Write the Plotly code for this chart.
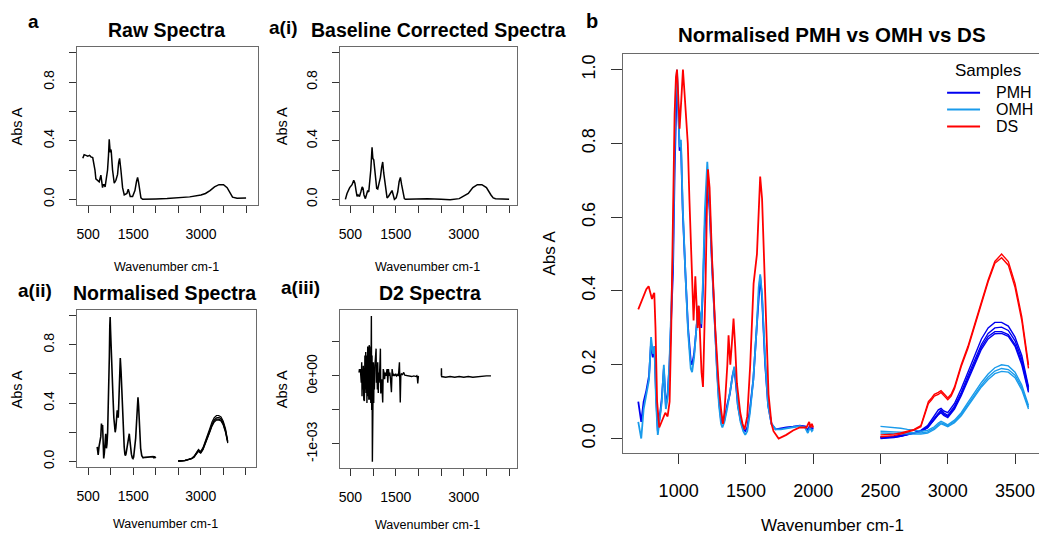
import plotly.graph_objects as go

W, H = 1039, 538
FONT = "Liberation Sans, Arial, sans-serif"

# ---------------- data ----------------
# a : raw spectrum
raw_wn = [380, 410, 450, 490, 530, 560, 600, 633, 650, 670, 707, 744, 781, 800, 818, 835, 855, 875, 895,
          929, 950, 966, 978, 988, 1000, 1010, 1040, 1077, 1114, 1151, 1175, 1196, 1225, 1262, 1299, 1330,
          1358, 1388, 1410, 1432, 1484, 1536, 1570, 1595, 1615, 1632, 1669, 1706, 1800, 2000, 2250, 2500,
          2750, 3000, 3100, 3200, 3300, 3400, 3500, 3580, 3650, 3700, 3800, 3900, 4000]
raw_abs = [0.28, 0.305, 0.30, 0.295, 0.30, 0.29, 0.285, 0.24, 0.20, 0.14, 0.13, 0.12, 0.165, 0.13, 0.08, 0.10,
           0.10, 0.085, 0.12, 0.20, 0.30, 0.41, 0.36, 0.32, 0.34, 0.33, 0.20, 0.11, 0.13, 0.17, 0.25, 0.28,
           0.20, 0.08, 0.03, 0.035, 0.04, 0.07, 0.04, 0.02, 0.02, 0.06, 0.12, 0.15, 0.12, 0.08, 0.01, 0.0,
           0.0, 0.003, 0.006, 0.01, 0.017, 0.03, 0.04, 0.06, 0.085, 0.10, 0.10, 0.08, 0.04, 0.015, 0.008,
           0.008, 0.01]

# a(i) : baseline corrected spectrum
base_wn = [390, 426, 485, 537, 574, 600, 625, 647, 670, 699, 730, 760, 779, 800, 831, 855, 882, 905, 926,
           950, 978, 995, 1015, 1035, 1060, 1080, 1103, 1130, 1162, 1190, 1213, 1235, 1257, 1280, 1309,
           1340, 1368, 1390, 1419, 1440, 1471, 1510, 1544, 1575, 1603, 1630, 1662, 1690, 1713, 2000, 2200,
           2500, 2700, 2900, 3000, 3100, 3200, 3300, 3400, 3500, 3600, 3650, 3700, 3900, 4000]
base_abs = [0.0, 0.04, 0.08, 0.10, 0.13, 0.11, 0.06, 0.02, 0.03, 0.02, 0.05, 0.085, 0.075, 0.03, 0.005,
            0.04, 0.06, 0.05, 0.12, 0.20, 0.355, 0.28, 0.27, 0.19, 0.12, 0.075, 0.07, 0.10, 0.15, 0.22,
            0.255, 0.18, 0.12, 0.05, 0.01, 0.02, 0.03, 0.045, 0.06, 0.03, 0.0, 0.01, 0.05, 0.12, 0.15,
            0.10, 0.03, 0.005, 0.0, 0.003, 0.005, 0.0, -0.002, 0.005, 0.02, 0.04, 0.08, 0.10, 0.10, 0.08,
            0.03, 0.01, 0.004, 0.0, 0.0]

# a(iii) : second derivative
d2_wn_fp = [690, 700, 710, 720, 730, 740, 750, 757, 765, 775, 785, 795, 809, 820, 830, 838, 846, 855, 865,
            874, 882, 890, 898, 906, 914, 920, 926, 934, 942, 950, 957, 963, 970, 978, 985, 992, 1000,
            1007, 1015, 1022, 1030, 1040, 1051, 1067, 1075, 1085, 1095, 1103, 1115, 1125, 1135, 1145, 1162,
            1170, 1190, 1213, 1225, 1240, 1255, 1270, 1285, 1300, 1309, 1325, 1340, 1355, 1370, 1385, 1405,
            1420, 1440, 1460, 1480, 1500, 1520, 1545, 1560, 1582, 1590, 1600, 1612, 1625, 1650, 1676, 1700,
            1750, 1800, 1850, 1900, 1950, 1965, 1975, 1986, 1993, 2000]
d2_val_fp = [5e-5, 1e-4, 5e-5, 1e-4, 0.0, -1e-4, 2e-4, -3e-4, 1e-4, -2e-4, 1.5e-4, -3.5e-4, -3.7e-4, 3e-4,
             -2e-4, 3.5e-4, -2.5e-4, 3e-4, -4e-4, 2e-4, 4.3e-4, -3e-4, 1e-4, -3.5e-4, 4.5e-4, -2e-4, 4.2e-4,
             -3.5e-4, 2e-4, -4e-4, 3e-4, 8.8e-4, -5e-4, 3e-4, -1.26e-3, 2e-4, -3e-4, 2e-4, -4e-4, 1e-4,
             -2e-4, 1.5e-4, 3e-4, 4e-4, -1e-4, 1e-4, -2e-4, 2e-4, -2.5e-4, 5e-5, -1e-4, 5e-5, 4e-4, -2.6e-4,
             -5e-5, -3.9e-4, 1e-4, 5e-5, -5e-5, 5e-5, 0.0, 5e-5, 1e-4, -1e-4, 1e-4, 0.0, 5e-5, -5e-5,
             -2.4e-4, 1e-4, 0.0, 2e-5, 0.0, 3e-5, 0.0, 2e-5, 0.0, 2e-4, 0.0, -3.9e-4, 0.0, 3e-5, 2e-5, 5e-5,
             1e-5, 0.0, 0.0, -1e-5, 0.0, -1e-5, 0.0, -2e-5, -1.1e-4, -5e-5, 0.0]
d2_wn_oh = [2505, 2508, 2512, 2600, 2700, 2800, 2900, 3000, 3100, 3200, 3300, 3400, 3500, 3600]
d2_val_oh = [0.0, 1.1e-4, -1e-5, -2e-5, -1e-5, -2e-5, -1e-5, -2e-5, -1e-5, -2e-5, -1e-5, -1e-5, 0.0, 0.0]

# b / a(ii) : normalised spectra, fingerprint region (700-2000)
fp_wn = [700, 712, 722, 740, 760, 780, 795, 808, 820, 832, 845, 860, 875, 890, 905, 918, 932, 945, 958,
         970, 980, 988, 997, 1007, 1017, 1030, 1050, 1070, 1090, 1100, 1115, 1130, 1145, 1158, 1168, 1180,
         1195, 1213, 1230, 1248, 1265, 1285, 1300, 1315, 1325, 1340, 1360, 1380, 1400, 1413, 1425, 1440,
         1460, 1480, 1495, 1510, 1530, 1555, 1580, 1595, 1606, 1620, 1643, 1665, 1690, 1720, 1760, 1800,
         1850, 1900, 1940, 1960, 1975, 1990, 2000]
pmh_fp = [0.10, 0.06, 0.045, 0.10, 0.13, 0.17, 0.26, 0.22, 0.25, 0.12, 0.02, 0.06, 0.11, 0.19, 0.09, 0.12,
          0.20, 0.33, 0.45, 0.72, 0.93, 0.99, 0.90, 0.78, 0.80, 0.62, 0.45, 0.30, 0.21, 0.20, 0.23, 0.30,
          0.35, 0.33, 0.30, 0.40, 0.58, 0.71, 0.62, 0.47, 0.33, 0.19, 0.10, 0.05, 0.04, 0.05, 0.09, 0.12,
          0.17, 0.19, 0.15, 0.09, 0.05, 0.025, 0.02, 0.03, 0.08, 0.16, 0.30, 0.40, 0.44, 0.38, 0.20, 0.09,
          0.04, 0.025, 0.028, 0.03, 0.032, 0.035, 0.033, 0.022, 0.035, 0.025, 0.03]
omh_fp = [0.045, 0.015, 0.0, 0.08, 0.12, 0.16, 0.275, 0.23, 0.25, 0.10, 0.01, 0.05, 0.10, 0.20, 0.08, 0.11,
          0.21, 0.35, 0.50, 0.78, 0.96, 1.0, 0.92, 0.79, 0.81, 0.63, 0.45, 0.29, 0.19, 0.18, 0.22, 0.30,
          0.36, 0.34, 0.31, 0.42, 0.62, 0.75, 0.64, 0.48, 0.33, 0.18, 0.09, 0.04, 0.03, 0.045, 0.08, 0.12,
          0.17, 0.195, 0.16, 0.09, 0.045, 0.02, 0.01, 0.02, 0.07, 0.16, 0.30, 0.41, 0.445, 0.39, 0.21, 0.09,
          0.04, 0.025, 0.025, 0.028, 0.03, 0.034, 0.03, 0.015, 0.03, 0.02, 0.025]
ds_wn_fp = [700, 715, 740, 760, 777, 790, 802, 812, 819, 828, 840, 856, 876, 901, 918, 933, 945, 958, 970,
            980, 988, 997, 1007, 1020, 1032, 1045, 1057, 1068, 1080, 1095, 1111, 1124, 1135, 1141, 1150,
            1160, 1170, 1181, 1190, 1200, 1210, 1218, 1230, 1248, 1272, 1297, 1315, 1329, 1340, 1350, 1362,
            1371, 1384, 1396, 1408, 1420, 1433, 1458, 1475, 1490, 1510, 1532, 1557, 1582, 1595, 1606, 1620,
            1643, 1668, 1690, 1705, 1743, 1770, 1800, 1850, 1900, 1950, 1970, 1980, 1990, 2000]
ds_fp = [0.35, 0.365, 0.39, 0.405, 0.413, 0.395, 0.378, 0.39, 0.395, 0.30, 0.10, 0.03, 0.05, 0.07, 0.06,
         0.10, 0.30, 0.60, 0.88, 0.98, 1.0, 0.93, 0.84, 0.92, 1.0, 0.93, 0.86, 0.80, 0.65, 0.48, 0.32, 0.44,
         0.34, 0.30, 0.36, 0.28, 0.18, 0.14, 0.25, 0.42, 0.62, 0.73, 0.68, 0.49, 0.30, 0.15, 0.08, 0.04,
         0.07, 0.12, 0.20, 0.28, 0.20, 0.26, 0.325, 0.25, 0.15, 0.07, 0.04, 0.025, 0.06, 0.20, 0.42, 0.50,
         0.60, 0.71, 0.65, 0.40, 0.12, 0.04, 0.02, 0.0, 0.005, 0.01, 0.022, 0.03, 0.03, 0.045, 0.03, 0.04,
         0.03]

# b / a(ii) : normalised spectra, OH/CH region (2500-3600), one list per replicate
oh_wn = [2500, 2550, 2600, 2650, 2700, 2750, 2800, 2850, 2900, 2930, 2950, 2970, 3000, 3050, 3100, 3150,
         3200, 3250, 3300, 3350, 3400, 3450, 3500, 3550, 3600]
pmh_oh = [
    [0.005, 0.004, 0.006, 0.008, 0.012, 0.016, 0.022, 0.035, 0.060, 0.078, 0.082, 0.075, 0.070, 0.095,
     0.135, 0.180, 0.225, 0.270, 0.300, 0.315, 0.315, 0.305, 0.275, 0.225, 0.140],
    [0.000, 0.001, 0.003, 0.006, 0.010, 0.014, 0.020, 0.032, 0.055, 0.072, 0.078, 0.070, 0.063, 0.088,
     0.125, 0.170, 0.212, 0.255, 0.285, 0.300, 0.302, 0.293, 0.265, 0.215, 0.135],
    [0.003, 0.003, 0.005, 0.007, 0.011, 0.015, 0.020, 0.030, 0.052, 0.068, 0.074, 0.066, 0.060, 0.083,
     0.120, 0.163, 0.205, 0.248, 0.277, 0.290, 0.290, 0.282, 0.255, 0.207, 0.130],
    [0.002, 0.002, 0.004, 0.006, 0.010, 0.014, 0.019, 0.029, 0.050, 0.065, 0.070, 0.063, 0.057, 0.080,
     0.116, 0.158, 0.200, 0.242, 0.270, 0.284, 0.285, 0.277, 0.250, 0.200, 0.125],
]
omh_oh = [
    [0.033, 0.032, 0.030, 0.028, 0.025, 0.022, 0.020, 0.022, 0.032, 0.042, 0.047, 0.043, 0.037, 0.050,
     0.070, 0.098, 0.125, 0.152, 0.175, 0.192, 0.200, 0.197, 0.180, 0.145, 0.090],
    [0.020, 0.020, 0.018, 0.017, 0.016, 0.015, 0.015, 0.018, 0.028, 0.038, 0.043, 0.040, 0.034, 0.046,
     0.066, 0.092, 0.118, 0.145, 0.167, 0.183, 0.190, 0.187, 0.172, 0.138, 0.085],
    [0.015, 0.014, 0.013, 0.013, 0.012, 0.012, 0.012, 0.015, 0.025, 0.035, 0.040, 0.037, 0.032, 0.043,
     0.062, 0.088, 0.113, 0.140, 0.160, 0.176, 0.182, 0.180, 0.165, 0.132, 0.080],
]
ds_wn_oh = [2500, 2550, 2600, 2650, 2700, 2750, 2800, 2830, 2856, 2880, 2900, 2930, 2950, 2975, 3000, 3025,
            3050, 3100, 3150, 3200, 3250, 3300, 3350, 3400, 3450, 3500, 3550, 3600]
ds_oh = [
    [0.010, 0.010, 0.012, 0.015, 0.020, 0.025, 0.035, 0.070, 0.100, 0.110, 0.120, 0.125, 0.130, 0.120,
     0.110, 0.120, 0.140, 0.200, 0.250, 0.310, 0.370, 0.430, 0.480, 0.500, 0.480, 0.420, 0.330, 0.200],
    [0.005, 0.006, 0.008, 0.012, 0.018, 0.023, 0.032, 0.065, 0.095, 0.105, 0.115, 0.120, 0.125, 0.115,
     0.105, 0.115, 0.135, 0.195, 0.245, 0.305, 0.365, 0.425, 0.475, 0.490, 0.470, 0.410, 0.320, 0.190],
]

samples = ["PMH", "OMH", "DS"]
sample_colors = ["#0000F0", "#1A9BEB", "#FF0000"]

small_xticks = [500, 1000, 1500, 2000, 2500, 3000, 3500, 4000]
small_xtext = ["500", "", "1500", "", "", "3000", "", ""]
small_yticks = [0.0, 0.2, 0.4, 0.6, 0.8, 1.0]
small_ytext = ["0.0", "", "0.4", "", "0.8", ""]
d2_yticks = [-1e-3, -5e-4, 0.0, 5e-4]
d2_ytext = ["-1e-03", "", "0e+00", ""]
b_xticks = [1000, 1500, 2000, 2500, 3000, 3500]
b_yticks = [0.0, 0.2, 0.4, 0.6, 0.8, 1.0]
b_ytext = ["0.0", "0.2", "0.4", "0.6", "0.8", "1.0"]


def px(x):
    return x / W


def py(y):
    return 1 - y / H


fig = go.Figure()


def line(x, y, ax, color="black", width=1.5, name=None):
    fig.add_trace(go.Scatter(x=x, y=y, mode="lines", line=dict(color=color, width=width),
                             xaxis="x" + ax, yaxis="y" + ax, name=name, showlegend=False,
                             hoverinfo="skip"))


# panel a, a(i), a(iii)
line(raw_wn, raw_abs, "")
line(base_wn, base_abs, "2")
line(d2_wn_fp, d2_val_fp, "4", width=1.4)
line(d2_wn_oh, d2_val_oh, "4", width=1.4)
# panel a(ii): normalised PMH spectra in black
line(fp_wn, pmh_fp, "3", width=1.6)
for rep in pmh_oh:
    line(oh_wn, rep, "3", width=1.2)

# panel b
groups = [
    (fp_wn, pmh_fp, oh_wn, pmh_oh),
    (fp_wn, omh_fp, oh_wn, omh_oh),
    (ds_wn_fp, ds_fp, ds_wn_oh, ds_oh),
]
for (name, col, (fx, fy, ox, oys)) in zip(samples, sample_colors, groups):
    line(fx, fy, "5", color=col, width=1.8, name=name)
    for rep in oys:
        line(ox, rep, "5", color=col, width=1.4, name=name)

axis_common = dict(showgrid=False, zeroline=False, showline=True, linecolor="#6a6a6a", linewidth=1,
                   ticks="outside", tickcolor="#333333", tickwidth=1,
                   tickfont=dict(family=FONT, size=14, color="black"))


def small_axes(n, xdom, ydom, xr, yr, ytv, ytt):
    xa = dict(axis_common, domain=[px(xdom[0]), px(xdom[1])], range=xr, tickmode="array",
              tickvals=small_xticks, ticktext=small_xtext, ticklen=7, mirror=True,
              anchor="y" + n, ticklabelstandoff=9)
    ya = dict(axis_common, domain=[py(ydom[1]), py(ydom[0])], range=yr, tickmode="array",
              tickvals=ytv, ticktext=ytt, ticklen=7, mirror=True, tickangle=-90,
              anchor="x" + n, ticklabelstandoff=9)
    return xa, ya


xa1, ya1 = small_axes("", (76, 257), (47, 206), [250, 4259], [-0.04, 1.04], small_yticks, small_ytext)
xa2, ya2 = small_axes("2", (339, 516), (47, 206), [264, 4163], [-0.04, 1.04], small_yticks, small_ytext)
xa3, ya3 = small_axes("3", (76, 255), (311, 469), [250, 4222], [-0.04, 1.04], small_yticks, small_ytext)
xa4, ya4 = small_axes("4", (339, 516), (311, 470), [264, 4163], [-1.357e-3, 0.97e-3], d2_yticks, d2_ytext)
xa1["anchor"] = "y"
ya1["anchor"] = "x"

xa5 = dict(axis_common, domain=[px(623), 1.0], range=[589.5, 3678], tickmode="array",
           tickvals=b_xticks, ticklen=10, mirror=True, anchor="y5", ticklabelstandoff=11,
           tickfont=dict(family=FONT, size=18, color="black"))
ya5 = dict(axis_common, domain=[py(455), py(54)], range=[-0.04, 1.043], tickmode="array",
           tickvals=b_yticks, ticktext=b_ytext, ticklen=11, mirror=False, tickangle=-90,
           anchor="x5", ticklabelstandoff=9, tickfont=dict(family=FONT, size=18, color="black"))

annotations = []


def txt(text, x, y, size, bold=False, angle=0, xanchor="center"):
    annotations.append(dict(text=("<b>%s</b>" % text) if bold else text, x=px(x), y=py(y),
                            xref="paper", yref="paper", showarrow=False, textangle=angle,
                            xanchor=xanchor, yanchor="middle",
                            font=dict(family=FONT, size=size, color="black")))


# panel labels and titles
txt("a", 33, 22, 19, True)
txt("Raw Spectra", 166, 30, 19.5, True)
txt("a(i)", 283, 28, 19, True)
txt("Baseline Corrected Spectra", 438, 30, 19.5, True)
txt("a(ii)", 34, 292, 19, True)
txt("Normalised Spectra", 164, 294, 19.5, True)
txt("a(iii)", 300, 289, 19, True)
txt("D2 Spectra", 429, 294, 19.5, True)
txt("b", 592, 21, 20, True)
txt("Normalised PMH vs OMH vs DS", 832, 35, 20.5, True)
# axis titles
for (x, y) in [(16, 127), (281, 127), (16, 391), (281, 391)]:
    txt("Abs A", x, y, 14.5, angle=-90)
for (x, y) in [(166, 268), (427, 268), (165, 526), (427, 527)]:
    txt("Wavenumber cm-1", x, y, 12.5)
txt("Abs A", 549, 254, 17, angle=-90)
txt("Wavenumber cm-1", 832, 527, 17)

# legend of panel b (title, keys and labels)
shapes = []
txt("Samples", 988, 71, 17)
for i, (name, col) in enumerate(zip(samples, sample_colors)):
    yk = 93 + 17 * i
    shapes.append(dict(type="line", xref="paper", yref="paper", x0=px(947), x1=px(980),
                       y0=py(yk), y1=py(yk), line=dict(color=col, width=2)))
    txt(name, 994, yk, 16, xanchor="left")

fig.update_layout(
    width=W, height=H, margin=dict(l=0, r=0, t=0, b=0),
    paper_bgcolor="white", plot_bgcolor="white",
    font=dict(family=FONT, color="black"),
    xaxis=xa1, yaxis=ya1, xaxis2=xa2, yaxis2=ya2, xaxis3=xa3, yaxis3=ya3,
    xaxis4=xa4, yaxis4=ya4, xaxis5=xa5, yaxis5=ya5,
    annotations=annotations, shapes=shapes,
    showlegend=False,
)

# remove the browser's default page margin so the figure fills the window exactly
fig.write_html("out.html", config={"displayModeBar": False},
               post_script="document.body.style.margin='0';document.body.style.overflow='hidden';")
